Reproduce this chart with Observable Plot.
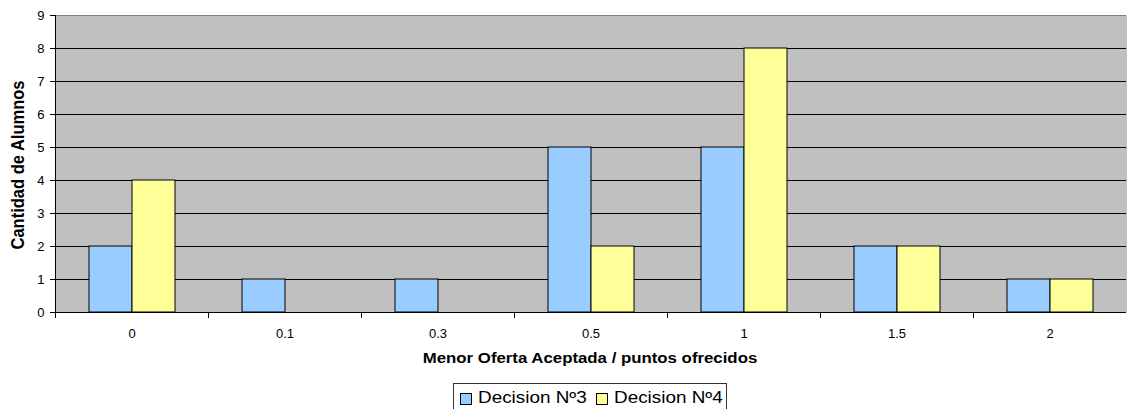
<!DOCTYPE html>
<html>
<head>
<meta charset="utf-8">
<script src="https://cdn.jsdelivr.net/npm/d3@7"></script>
<script src="https://cdn.jsdelivr.net/npm/@observablehq/plot@0.6"></script>
<style>
html, body { margin: 0; padding: 0; background: #fff; overflow: hidden; }
#wrap { position: relative; width: 1127px; height: 409px; font-family: "Liberation Sans", Arial, sans-serif; color: #000; }
#chart { position: absolute; left: 0; top: 0; }
#chart svg text { font-size: 13px !important; fill: #000; }
.title { position: absolute; white-space: nowrap; font-weight: bold; }
#xtitle { left: 590px; top: 358px; font-size: 14px; transform: translate(-50%, -50%) scaleX(1.2); }
#ytitle { left: 18px; top: 165px; font-size: 16.5px; transform: translate(-50%, -50%) rotate(-90deg) scaleY(1.12); }
#legend { position: absolute; left: 453px; top: 383px; width: 274px; height: 30px; border: 1px solid #333; box-sizing: border-box; background: #fff; }
.sw { position: absolute; width: 12px; height: 12px; border: 1px solid #000; box-sizing: border-box; top: 9px; }
.lt { position: absolute; top: 5px; font-size: 16px; line-height: 18px; white-space: nowrap; transform-origin: 0 50%; transform: scaleX(1.18); }
</style>
</head>
<body>
<div id="wrap">
  <div id="chart"></div>
  <div id="xtitle" class="title"></div>
  <div id="ytitle" class="title"></div>
  <div id="legend"></div>
</div>
<script>
// ---- data ----
const categories = ["0", "0.1", "0.3", "0.5", "1", "1.5", "2"];
const seriesNames = ["Decision Nº3", "Decision Nº4"];
const decision3 = [2, 1, 1, 5, 5, 2, 1];
const decision4 = [4, 0, 0, 2, 8, 2, 1];
const seriesColors = ["#99CCFF", "#FFFF99"];
const yTicks = [0, 1, 2, 3, 4, 5, 6, 7, 8, 9];
const gridValues = [1, 2, 3, 4, 5, 6, 7, 8];
const xTitle = "Menor Oferta Aceptada / puntos ofrecidos";
const yTitle = "Cantidad de Alumnos";

const data = categories.flatMap((c, i) => [
  {cat: c, series: seriesNames[0], value: decision3[i]},
  {cat: c, series: seriesNames[1], value: decision4[i]}
]).filter(d => d.value > 0);

const W = 1127, H = 345, mT = 15, mB = 33, mL = 53, mR = 0;
const plotH = H - mT - mB;

const chart = Plot.plot({
  width: W, height: H,
  marginLeft: mL, marginRight: mR, marginTop: mT, marginBottom: mB,
  style: {fontFamily: "'Liberation Sans', Arial, sans-serif", fontSize: "13px", background: "transparent", color: "#000", overflow: "visible"},
  fx: {domain: categories, padding: 0},
  x: {domain: seriesNames, paddingInner: 0, paddingOuter: 0.74, axis: null},
  y: {domain: [0, 9]},
  color: {domain: seriesNames, range: seriesColors},
  marks: [
    Plot.frame({fill: "#C0C0C0", stroke: null, insetRight: -1}),
    Plot.ruleY(gridValues, {stroke: "#000", strokeWidth: 1}),
    Plot.ruleY([9], {stroke: "#808080", strokeWidth: 1}),
    Plot.barY(data, {fx: "cat", x: "series", y: "value", fill: "series", stroke: "#000", strokeWidth: 1}),
    Plot.ruleY([0], {stroke: "#000", strokeWidth: 1}),
    Plot.frame({anchor: "left", insetTop: plotH, insetBottom: -5, stroke: "#000"}),
    Plot.frame({anchor: "left", facetAnchor: "left", stroke: "#000"}),
    Plot.axisY({ticks: yTicks, tickSize: 5, tickPadding: 6, label: null, stroke: "#000", fontSize: 13}),
    Plot.axisFx({anchor: "bottom", tickSize: 0, tickPadding: 16, label: null, fontSize: 13})
  ]
});
document.getElementById("chart").appendChild(chart);

document.getElementById("xtitle").textContent = xTitle;
document.getElementById("ytitle").textContent = yTitle;

const legend = document.getElementById("legend");
const swatchLeft = [6, 142];
seriesNames.forEach((name, i) => {
  const sw = document.createElement("div");
  sw.className = "sw";
  sw.style.left = swatchLeft[i] + "px";
  sw.style.background = seriesColors[i];
  legend.appendChild(sw);
  const t = document.createElement("div");
  t.className = "lt";
  t.style.left = (swatchLeft[i] + 18) + "px";
  t.textContent = name;
  legend.appendChild(t);
});
</script>
</body>
</html>
